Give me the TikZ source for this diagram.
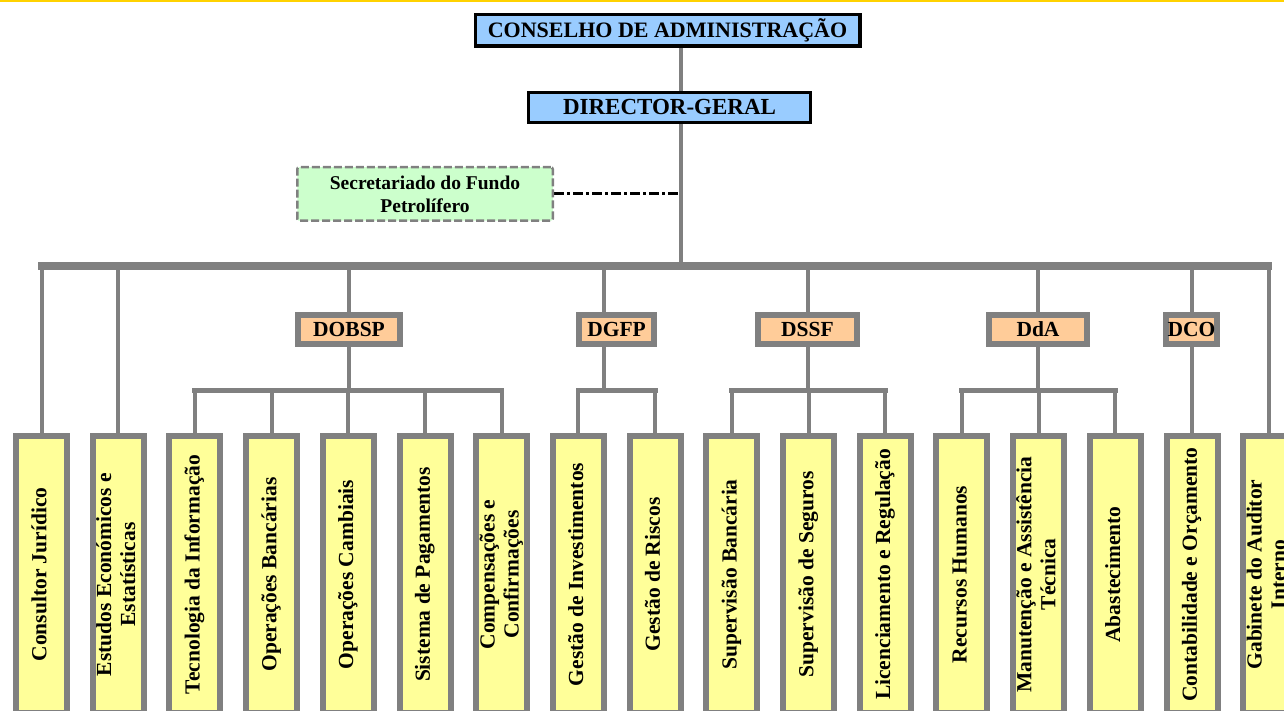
\documentclass[tikz,border=0pt]{standalone}
\usepackage{fontspec}
\usepackage{graphicx}
\setmainfont{Liberation Serif}
\usetikzlibrary{backgrounds}

\definecolor{linegray}{HTML}{808080}
\definecolor{boardblue}{HTML}{99CCFF}
\definecolor{deptorange}{HTML}{FFCC99}
\definecolor{unityellow}{HTML}{FFFF99}
\definecolor{secgreen}{HTML}{CCFFCC}
\definecolor{topgold}{HTML}{FFD200}

\newcommand{\vtext}[1]{\rotatebox{90}{\begin{tabular}{@{}c@{}}#1\end{tabular}}}

\tikzset{
  board/.style={draw=black, line width=3.5, fill=boardblue, inner sep=0,
    font=\bfseries\fontsize{22}{24}\selectfont},
  secbox/.style={draw=linegray, line width=2.5, dash pattern=on 8pt off 3pt,
    rounded corners=2, fill=secgreen, inner sep=0, align=center,
    font=\bfseries\fontsize{19.5}{23}\selectfont},
  dept/.style={draw=linegray, line width=6, fill=deptorange, inner sep=0,
    minimum height=29, font=\bfseries\fontsize{21.5}{24}\selectfont},
  unit/.style={draw=linegray, line width=6, fill=unityellow, inner sep=0,
    minimum width=51, minimum height=277,
    font=\bfseries\fontsize{21.5}{24}\selectfont},
  link/.style={draw=linegray, line width=4},
  mainbus/.style={draw=linegray, line width=7, line cap=rect},
  subbus/.style={draw=linegray, line width=5, line cap=rect},
}

\begin{document}
\begin{tikzpicture}[x=1pt, y=-1pt]
\useasboundingbox (0,0) rectangle (1284,711);

% thin gold rule along the top edge
\draw[topgold, line width=2.5] (0,1) -- (1284,1);

% top of the chart
\node[board, minimum width=384.5, minimum height=31.5] (cons) at (667.5,30.5)
  {CONSELHO DE ADMINISTRAÇÃO};
\node[board, line width=3, minimum width=282, minimum height=30,
  font=\bfseries\fontsize{23}{25}\selectfont] (dir) at (669.5,107.5)
  {DIRECTOR-GERAL};
\node[secbox, minimum width=255.5, minimum height=53.5] (sec) at (425,194)
  {Secretariado do Fundo\\Petrolífero};

% junctions
\coordinate (trunk) at (681,266);
\coordinate (lvl2) at (0,390);
\coordinate (dgfpx) at (604,390);

% departments
\node[dept, minimum width=102] (dobsp) at (349,329.5) {DOBSP};
\node[dept, minimum width=75] (dgfp) at (616.5,329.5) {DGFP};
\node[dept, minimum width=99] (dssf) at (807.5,329.5) {DSSF};
\node[dept, minimum width=98] (dda) at (1038,329.5) {DdA};
\node[dept, minimum width=51] (dco) at (1191.5,329.5) {DCO};

% units
\node[unit] (cj) at (41.5,574.5) {\vtext{Consultor Jurídico}};
\node[unit] (eee) at (118.2,574.5) {\vtext{Estudos Económicos e\\Estatísticas}};
\node[unit] (ti) at (194.9,574.5) {\vtext{Tecnologia da Informação}};
\node[unit] (ob) at (271.6,574.5) {\vtext{Operações Bancárias}};
\node[unit] (oc) at (348.3,574.5) {\vtext{Operações Cambiais}};
\node[unit] (sp) at (425,574.5) {\vtext{Sistema de Pagamentos}};
\node[unit] (cc) at (501.7,574.5) {\vtext{Compensações e\\Confirmações}};
\node[unit] (gi) at (578.4,574.5) {\vtext{Gestão de Investimentos}};
\node[unit] (gr) at (655.1,574.5) {\vtext{Gestão de Riscos}};
\node[unit] (sb) at (731.8,574.5) {\vtext{Supervisão Bancária}};
\node[unit] (ss) at (808.5,574.5) {\vtext{Supervisão de Seguros}};
\node[unit] (lr) at (885.2,574.5) {\vtext{Licenciamento e Regulação}};
\node[unit] (rh) at (961.9,574.5) {\vtext{Recursos Humanos}};
\node[unit] (mat) at (1038.6,574.5) {\vtext{Manutenção e Assistência\\Técnica}};
\node[unit] (ab) at (1115.3,574.5) {\vtext{Abastecimento}};
\node[unit] (co) at (1192,574.5) {\vtext{Contabilidade e Orçamento}};
\node[unit] (gai) at (1268.7,574.5) {\vtext{Gabinete do Auditor\\Interno}};

\begin{pgfonlayer}{background}
  % trunk
  \draw[link] (cons.south -| trunk) -- (dir.north -| trunk);
  \draw[link] (dir.south -| trunk) -- (trunk);
  \draw[line width=3, dash pattern=on 10pt off 3pt on 3pt off 3pt]
    (sec.east) -- (sec.east -| trunk);

  % main bus and its drops
  \draw[mainbus] (cj.north |- trunk) -- (gai.north |- trunk);
  \draw[link] (cj.north |- trunk) -- (cj.north);
  \draw[link] (eee.north |- trunk) -- (eee.north);
  \draw[link] (dobsp.north |- trunk) -- (dobsp.north);
  \draw[link] (dgfpx |- trunk) -- (dgfpx);
  \draw[link] (dssf.north |- trunk) -- (dssf.north);
  \draw[link] (dda.north |- trunk) -- (dda.north);
  \draw[link] (dco.north |- trunk) -- (dco.north);
  \draw[link] (gai.north |- trunk) -- (gai.north);

  % DOBSP
  \draw[link] (dobsp.south) -- (dobsp.south |- lvl2);
  \draw[subbus] (ti.north |- lvl2) -- (cc.north |- lvl2);
  \draw[link] (ti.north |- lvl2) -- (ti.north);
  \draw[link] (ob.north |- lvl2) -- (ob.north);
  \draw[link] (oc.north |- lvl2) -- (oc.north);
  \draw[link] (sp.north |- lvl2) -- (sp.north);
  \draw[link] (cc.north |- lvl2) -- (cc.north);

  % DGFP
  \draw[subbus] (gi.north |- lvl2) -- (gr.north |- lvl2);
  \draw[link] (gi.north |- lvl2) -- (gi.north);
  \draw[link] (gr.north |- lvl2) -- (gr.north);

  % DSSF
  \draw[link] (dssf.south) -- (dssf.south |- lvl2);
  \draw[subbus] (sb.north |- lvl2) -- (lr.north |- lvl2);
  \draw[link] (sb.north |- lvl2) -- (sb.north);
  \draw[link] (ss.north |- lvl2) -- (ss.north);
  \draw[link] (lr.north |- lvl2) -- (lr.north);

  % DdA
  \draw[link] (dda.south) -- (dda.south |- lvl2);
  \draw[subbus] (rh.north |- lvl2) -- (ab.north |- lvl2);
  \draw[link] (rh.north |- lvl2) -- (rh.north);
  \draw[link] (mat.north |- lvl2) -- (mat.north);
  \draw[link] (ab.north |- lvl2) -- (ab.north);

  % DCO
  \draw[link] (dco.south) -- (dco.south |- co.north);
\end{pgfonlayer}
\end{tikzpicture}
\end{document}
